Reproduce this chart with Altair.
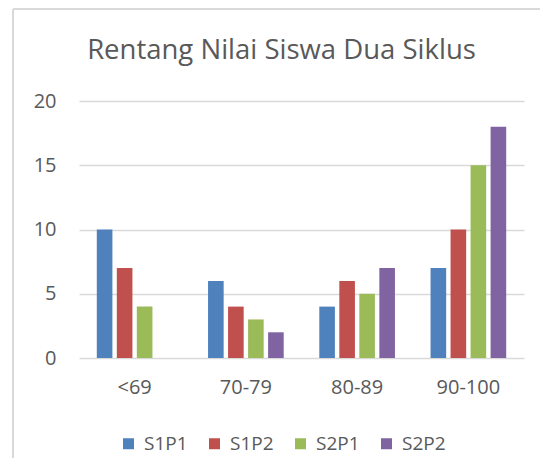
import altair as alt
import pandas as pd

categories = ["<69", "70-79", "80-89", "90-100"]
series = ["S1P1", "S1P2", "S2P1", "S2P2"]
s1p1 = [10, 6, 4, 7]
s1p2 = [7, 4, 6, 10]
s2p1 = [4, 3, 5, 15]
s2p2 = [0, 2, 7, 18]
colors = ["#4F81BD", "#C0504D", "#9BBB59", "#8064A2"]

rows = []
for name, vals in zip(series, [s1p1, s1p2, s2p1, s2p2]):
    for c, v in zip(categories, vals):
        rows.append({"Kategori": c, "Seri": name, "Nilai": v})
df = pd.DataFrame(rows)

FONT = "Open Sans"
TXT = "#595959"

bars = alt.Chart(df).mark_bar().encode(
    x=alt.X("Kategori:N", sort=categories, title=None,
            scale=alt.Scale(paddingInner=0.32, paddingOuter=0.16),
            axis=alt.Axis(labelAngle=0, ticks=False, domain=False, grid=False,
                          labelFont=FONT, labelFontSize=20, labelColor=TXT,
                          labelPadding=19)),
    xOffset=alt.XOffset("Seri:N", sort=series,
                        scale=alt.Scale(paddingInner=0.22, paddingOuter=0)),
    y=alt.Y("Nilai:Q", title=None,
            scale=alt.Scale(domain=[0, 20]),
            axis=alt.Axis(values=[0, 5, 10, 15, 20], ticks=False, domain=False,
                          gridColor="#d9d9d9", gridWidth=1.5,
                          labelFont=FONT, labelFontSize=20, labelColor=TXT,
                          labelPadding=23)),
    color=alt.Color("Seri:N", sort=series,
                    scale=alt.Scale(domain=series, range=colors),
                    legend=alt.Legend(title=None, orient="none", direction="horizontal",
                                      legendX=40, legendY=333, columns=4,
                                      symbolType="square", symbolSize=121,
                                      symbolStrokeWidth=0,
                                      labelFont=FONT, labelFontSize=19, labelColor=TXT,
                                      columnPadding=17, labelOffset=6)),
)

frame_left = alt.Chart(df).mark_rule(color="#d9d9d9", strokeWidth=2).encode(
    x=alt.value(-66), y=alt.value(-92), y2=alt.value(370))
frame_top = alt.Chart(df).mark_rule(color="#d9d9d9", strokeWidth=2).encode(
    x=alt.value(-66), x2=alt.value(461), y=alt.value(-92))

chart = alt.layer(frame_left, frame_top, bars).properties(
    width=445, height=257,
    autosize=alt.AutoSizeParams(type="none"),
    padding={"left": 71, "top": 93, "right": 16, "bottom": 100},
    title=alt.TitleParams("Rentang Nilai Siswa Dua Siklus", font=FONT, fontSize=27.5,
                          fontWeight="normal", color=TXT, offset=0, anchor="middle",
                          frame="group", baseline="alphabetic", dy=78, dx=-20),
).configure_view(stroke=None)

chart.save("out.html", embed_options={"renderer": "svg", "actions": False})
